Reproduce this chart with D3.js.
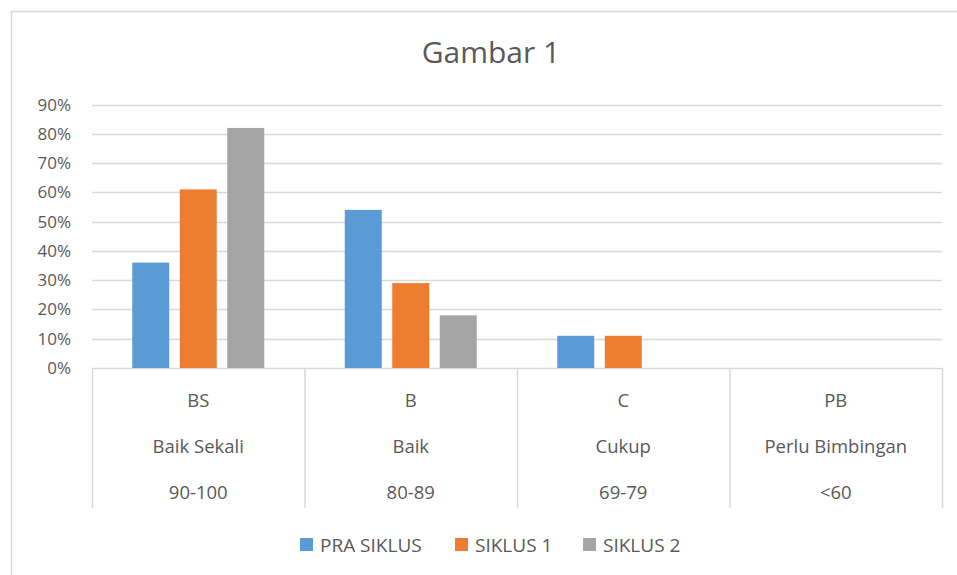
<!DOCTYPE html>
<html>
<head>
<meta charset="utf-8">
<script src="https://cdn.jsdelivr.net/npm/d3@7"></script>
<style>
  body { margin: 0; background: #fff; }
  text { font-family: "Open Sans", "Noto Sans", sans-serif; fill: #595959; }
</style>
</head>
<body>
<svg id="chart" width="957" height="575"></svg>
<script>
const codes = ['BS', 'B', 'C', 'PB'];
const names = ['Baik Sekali', 'Baik', 'Cukup', 'Perlu Bimbingan'];
const ranges = ['90-100', '80-89', '69-79', '<60'];
const seriesNames = ['PRA SIKLUS', 'SIKLUS 1', 'SIKLUS 2'];
const praSiklus = [0.36, 0.54, 0.11, 0];
const siklus1 = [0.61, 0.29, 0.11, 0];
const siklus2 = [0.82, 0.18, 0, 0];
const colors = ['#5b9bd5', '#ed7d31', '#a5a5a5'];
const yTicks = [0, 0.1, 0.2, 0.3, 0.4, 0.5, 0.6, 0.7, 0.8, 0.9];

const svg = d3.select('#chart');

// chart frame (only top and left edges fall inside the picture)
svg.append('path')
    .attr('d', 'M11.5,575 V11.5 H957')
    .attr('fill', 'none')
    .attr('stroke', '#d9d9d9')
    .attr('stroke-width', 1.5);

svg.append('text')
    .attr('x', 491)
    .attr('y', 63)
    .attr('text-anchor', 'middle')
    .style('font-size', '30px')
    .text('Gambar 1');

const x = d3.scaleBand().domain(codes).range([92, 942]);
const y = d3.scaleLinear().domain([0, 0.9]).range([368, 104.5]);

// gridlines
svg.append('g')
    .selectAll('line')
    .data(yTicks)
    .enter()
    .append('line')
    .attr('x1', 92)
    .attr('x2', 942)
    .attr('y1', d => Math.round(y(d)) + 0.5)
    .attr('y2', d => Math.round(y(d)) + 0.5)
    .attr('stroke', '#d9d9d9')
    .attr('stroke-width', 1.5);

svg.append('g')
    .selectAll('text')
    .data(yTicks)
    .enter()
    .append('text')
    .attr('x', 71)
    .attr('y', d => y(d) + 6)
    .attr('text-anchor', 'end')
    .style('font-size', '17px')
    .text(d => d3.format('.0%')(d));

// bars
const data = codes.map((c, i) => ({
    code: c,
    values: [praSiklus[i], siklus1[i], siklus2[i]]
}));
const bw = 37, gap = 10.5;
const groups = svg.append('g')
    .selectAll('g')
    .data(data)
    .enter()
    .append('g');

groups.selectAll('rect')
    .data(d => d.values.map((v, k) => ({ code: d.code, v: v, k: k })))
    .enter()
    .append('rect')
    .filter(d => d.v > 0)
    .attr('x', d => x(d.code) + x.bandwidth() / 2 + (d.k - 1) * (bw + gap) - bw / 2)
    .attr('y', d => y(d.v))
    .attr('width', bw)
    .attr('height', d => y(0) - y(d.v))
    .attr('fill', d => colors[d.k]);

// category axis: divider lines
svg.append('g')
    .selectAll('line')
    .data(codes.concat(['end']))
    .enter()
    .append('line')
    .attr('x1', (d, i) => 92 + i * x.bandwidth() + 0.5)
    .attr('x2', (d, i) => 92 + i * x.bandwidth() + 0.5)
    .attr('y1', 368)
    .attr('y2', 508)
    .attr('stroke', '#d9d9d9')
    .attr('stroke-width', 1.5);

const labelRows = [codes, names, ranges];
const rowY = [407, 453, 499];
labelRows.forEach((row, r) => {
    svg.append('g')
        .selectAll('text')
        .data(row)
        .enter()
        .append('text')
        .attr('x', (d, i) => x(codes[i]) + x.bandwidth() / 2)
        .attr('y', rowY[r])
        .attr('text-anchor', 'middle')
        .style('font-size', '18.5px')
        .text(d => d);
});

// legend
const legendX = [300, 455, 583];
const legend = svg.append('g')
    .selectAll('g')
    .data(seriesNames)
    .enter()
    .append('g')
    .attr('transform', (d, i) => 'translate(' + legendX[i] + ',538)');
legend.append('rect')
    .attr('width', 13)
    .attr('height', 13)
    .attr('fill', (d, i) => colors[i]);
legend.append('text')
    .attr('x', 20)
    .attr('y', 13.5)
    .style('font-size', '19px')
    .text(d => d);
</script>
</body>
</html>
